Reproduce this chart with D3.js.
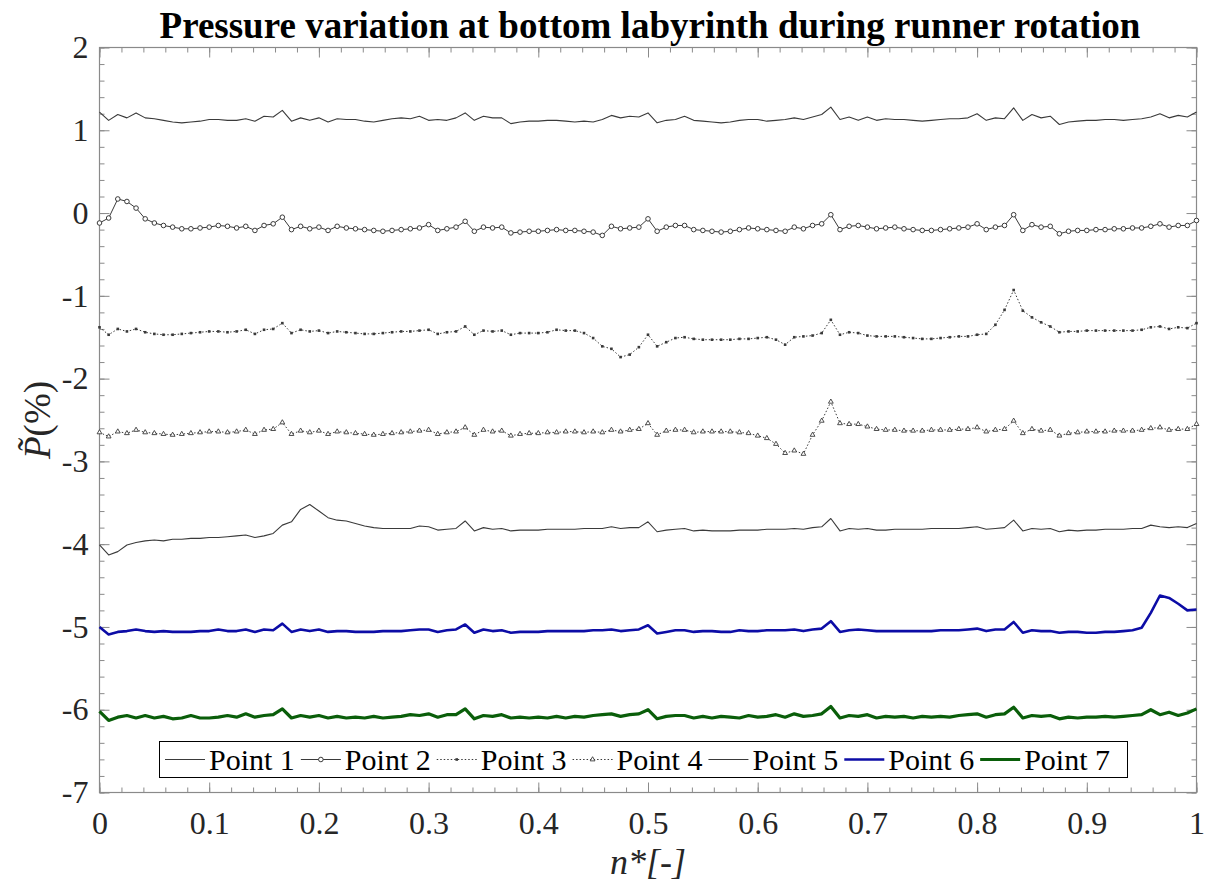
<!DOCTYPE html>
<html>
<head>
<meta charset="utf-8">
<script src="https://cdn.jsdelivr.net/npm/d3@7"></script>
<style>
  body { margin: 0; background: #fff; }
</style>
</head>
<body>
<div id="chart"></div>
<script>
// x grid of the runner rotation (121 samples, 0..1)
const nStar = d3.range(121).map(i => i / 120);

// pressure series (%)
const point1 = [
  1.22, 1.12, 1.19, 1.15, 1.21, 1.15, 1.14, 1.12, 1.10, 1.09, 1.10, 1.11, 1.13, 1.13, 1.12, 1.12, 1.14, 1.11, 1.17, 1.16,
  1.24, 1.11, 1.15, 1.12, 1.15, 1.10, 1.14, 1.13, 1.13, 1.11, 1.10, 1.12, 1.14, 1.15, 1.14, 1.17, 1.12, 1.13, 1.12, 1.15,
  1.21, 1.12, 1.17, 1.15, 1.15, 1.08, 1.10, 1.11, 1.11, 1.12, 1.12, 1.11, 1.10, 1.11, 1.10, 1.13, 1.18, 1.15, 1.17, 1.16,
  1.21, 1.09, 1.12, 1.13, 1.17, 1.12, 1.11, 1.10, 1.09, 1.10, 1.12, 1.13, 1.13, 1.11, 1.12, 1.13, 1.15, 1.13, 1.16, 1.19,
  1.28, 1.13, 1.16, 1.12, 1.16, 1.12, 1.14, 1.13, 1.13, 1.12, 1.11, 1.12, 1.13, 1.14, 1.14, 1.15, 1.20, 1.12, 1.15, 1.14,
  1.27, 1.12, 1.19, 1.15, 1.17, 1.07, 1.10, 1.11, 1.12, 1.12, 1.13, 1.13, 1.12, 1.13, 1.14, 1.16, 1.20, 1.15, 1.18, 1.16,
  1.22
];
const point2 = [
  -0.12, -0.06, 0.17, 0.14, 0.06, -0.07, -0.12, -0.15, -0.17, -0.19, -0.19, -0.18, -0.17, -0.15, -0.16, -0.18, -0.16, -0.21, -0.15, -0.13,
  -0.05, -0.20, -0.16, -0.19, -0.17, -0.21, -0.16, -0.18, -0.19, -0.20, -0.21, -0.22, -0.21, -0.20, -0.19, -0.18, -0.14, -0.21, -0.19, -0.17,
  -0.10, -0.22, -0.17, -0.18, -0.17, -0.24, -0.23, -0.22, -0.22, -0.21, -0.20, -0.21, -0.21, -0.22, -0.23, -0.27, -0.16, -0.19, -0.18, -0.17,
  -0.07, -0.22, -0.17, -0.15, -0.15, -0.20, -0.21, -0.22, -0.23, -0.22, -0.20, -0.18, -0.19, -0.20, -0.21, -0.22, -0.17, -0.19, -0.15, -0.13,
  -0.02, -0.20, -0.16, -0.15, -0.17, -0.19, -0.18, -0.17, -0.19, -0.20, -0.21, -0.21, -0.20, -0.19, -0.18, -0.17, -0.13, -0.20, -0.17, -0.15,
  -0.02, -0.21, -0.14, -0.17, -0.16, -0.25, -0.22, -0.21, -0.21, -0.20, -0.20, -0.19, -0.19, -0.18, -0.18, -0.16, -0.13, -0.17, -0.15, -0.15,
  -0.09
];
const point3 = [
  -1.38, -1.47, -1.40, -1.43, -1.40, -1.44, -1.46, -1.47, -1.47, -1.46, -1.45, -1.44, -1.43, -1.43, -1.44, -1.43, -1.41, -1.46, -1.41, -1.40,
  -1.33, -1.45, -1.41, -1.43, -1.42, -1.45, -1.43, -1.44, -1.45, -1.46, -1.46, -1.45, -1.44, -1.43, -1.43, -1.42, -1.41, -1.46, -1.44, -1.43,
  -1.37, -1.47, -1.42, -1.43, -1.42, -1.47, -1.45, -1.45, -1.45, -1.44, -1.41, -1.42, -1.42, -1.45, -1.51, -1.61, -1.64, -1.74, -1.71, -1.62,
  -1.47, -1.61, -1.56, -1.51, -1.50, -1.52, -1.53, -1.53, -1.53, -1.53, -1.52, -1.52, -1.51, -1.50, -1.53, -1.59, -1.50, -1.49, -1.48, -1.45,
  -1.29, -1.47, -1.44, -1.45, -1.48, -1.49, -1.49, -1.49, -1.50, -1.51, -1.52, -1.52, -1.51, -1.50, -1.49, -1.49, -1.47, -1.46, -1.35, -1.17,
  -0.93, -1.18, -1.26, -1.32, -1.37, -1.44, -1.43, -1.43, -1.42, -1.42, -1.42, -1.42, -1.42, -1.42, -1.41, -1.38, -1.37, -1.40, -1.38, -1.39,
  -1.33
];
const point4 = [
  -2.65, -2.70, -2.64, -2.66, -2.62, -2.65, -2.66, -2.67, -2.68, -2.67, -2.66, -2.65, -2.64, -2.64, -2.65, -2.64, -2.62, -2.67, -2.62, -2.61,
  -2.53, -2.67, -2.63, -2.65, -2.63, -2.67, -2.64, -2.65, -2.66, -2.67, -2.68, -2.67, -2.66, -2.65, -2.64, -2.63, -2.62, -2.67, -2.65, -2.64,
  -2.59, -2.68, -2.62, -2.64, -2.63, -2.69, -2.67, -2.66, -2.66, -2.65, -2.65, -2.64, -2.64, -2.65, -2.64, -2.65, -2.62, -2.64, -2.62, -2.61,
  -2.54, -2.68, -2.63, -2.62, -2.62, -2.65, -2.64, -2.64, -2.64, -2.64, -2.65, -2.66, -2.69, -2.72, -2.79, -2.90, -2.87, -2.91, -2.68, -2.51,
  -2.28, -2.54, -2.55, -2.55, -2.58, -2.61, -2.62, -2.62, -2.63, -2.63, -2.63, -2.62, -2.62, -2.62, -2.61, -2.61, -2.59, -2.64, -2.62, -2.61,
  -2.51, -2.66, -2.61, -2.63, -2.62, -2.69, -2.66, -2.65, -2.64, -2.64, -2.64, -2.63, -2.63, -2.63, -2.62, -2.60, -2.59, -2.62, -2.61, -2.61,
  -2.55
];
const point5 = [
  -4.01, -4.13, -4.09, -4.01, -3.98, -3.96, -3.95, -3.96, -3.94, -3.94, -3.93, -3.93, -3.92, -3.92, -3.91, -3.90, -3.89, -3.92, -3.90, -3.87,
  -3.77, -3.73, -3.58, -3.52, -3.60, -3.68, -3.71, -3.72, -3.75, -3.78, -3.80, -3.81, -3.81, -3.81, -3.81, -3.78, -3.79, -3.83, -3.82, -3.81,
  -3.72, -3.84, -3.80, -3.82, -3.81, -3.84, -3.83, -3.83, -3.83, -3.82, -3.82, -3.82, -3.82, -3.81, -3.81, -3.81, -3.79, -3.81, -3.80, -3.80,
  -3.73, -3.85, -3.83, -3.82, -3.81, -3.84, -3.83, -3.84, -3.84, -3.84, -3.83, -3.83, -3.83, -3.82, -3.82, -3.82, -3.81, -3.82, -3.80, -3.79,
  -3.69, -3.84, -3.81, -3.82, -3.81, -3.83, -3.83, -3.82, -3.82, -3.82, -3.82, -3.81, -3.81, -3.81, -3.81, -3.80, -3.79, -3.82, -3.81, -3.80,
  -3.71, -3.84, -3.81, -3.82, -3.81, -3.85, -3.83, -3.84, -3.83, -3.83, -3.82, -3.82, -3.82, -3.81, -3.81, -3.77, -3.79, -3.80, -3.79, -3.80,
  -3.75
];
const point6 = [
  -5.00, -5.09, -5.06, -5.05, -5.03, -5.05, -5.06, -5.05, -5.06, -5.06, -5.06, -5.05, -5.05, -5.03, -5.05, -5.05, -5.03, -5.06, -5.03, -5.04,
  -4.96, -5.06, -5.03, -5.05, -5.03, -5.06, -5.05, -5.05, -5.06, -5.06, -5.06, -5.05, -5.05, -5.05, -5.04, -5.03, -5.03, -5.06, -5.04, -5.03,
  -4.97, -5.07, -5.03, -5.05, -5.04, -5.07, -5.06, -5.06, -5.06, -5.05, -5.05, -5.05, -5.05, -5.05, -5.04, -5.04, -5.03, -5.05, -5.04, -5.03,
  -4.98, -5.08, -5.06, -5.04, -5.04, -5.06, -5.05, -5.05, -5.06, -5.06, -5.04, -5.05, -5.05, -5.04, -5.04, -5.04, -5.03, -5.05, -5.03, -5.02,
  -4.93, -5.06, -5.04, -5.03, -5.04, -5.05, -5.05, -5.05, -5.05, -5.05, -5.05, -5.05, -5.04, -5.04, -5.04, -5.03, -5.02, -5.05, -5.03, -5.03,
  -4.94, -5.07, -5.04, -5.05, -5.05, -5.07, -5.06, -5.06, -5.07, -5.07, -5.06, -5.06, -5.05, -5.04, -5.01, -4.83, -4.62, -4.65, -4.72, -4.80,
  -4.79
];
const point7 = [
  -6.02, -6.13, -6.09, -6.07, -6.10, -6.07, -6.10, -6.08, -6.11, -6.10, -6.07, -6.10, -6.10, -6.09, -6.07, -6.09, -6.05, -6.09, -6.07, -6.06,
  -5.99, -6.10, -6.07, -6.09, -6.07, -6.10, -6.08, -6.10, -6.09, -6.10, -6.08, -6.10, -6.09, -6.08, -6.06, -6.07, -6.05, -6.09, -6.06, -6.06,
  -5.99, -6.11, -6.07, -6.08, -6.06, -6.10, -6.09, -6.10, -6.09, -6.10, -6.08, -6.10, -6.08, -6.09, -6.07, -6.06, -6.05, -6.08, -6.06, -6.05,
  -6.00, -6.11, -6.08, -6.07, -6.07, -6.10, -6.08, -6.10, -6.08, -6.09, -6.10, -6.07, -6.09, -6.08, -6.06, -6.09, -6.05, -6.08, -6.07, -6.05,
  -5.96, -6.10, -6.07, -6.08, -6.06, -6.10, -6.08, -6.09, -6.08, -6.10, -6.08, -6.09, -6.08, -6.09, -6.07, -6.06, -6.05, -6.09, -6.06, -6.05,
  -5.97, -6.10, -6.07, -6.08, -6.07, -6.11, -6.09, -6.10, -6.09, -6.09, -6.08, -6.09, -6.08, -6.07, -6.06, -6.00, -6.06, -6.03, -6.07, -6.04,
  -5.99
];

const seriesNames = ["Point 1", "Point 2", "Point 3", "Point 4", "Point 5", "Point 6", "Point 7"];
const seriesValues = [point1, point2, point3, point4, point5, point6, point7];

// axis ticks and labels
const xTickValues = [0, 0.1, 0.2, 0.3, 0.4, 0.5, 0.6, 0.7, 0.8, 0.9, 1];
const xTickLabels = ["0", "0.1", "0.2", "0.3", "0.4", "0.5", "0.6", "0.7", "0.8", "0.9", "1"];
const yTickValues = [2, 1, 0, -1, -2, -3, -4, -5, -6, -7];
const yTickLabels = ["2", "1", "0", "-1", "-2", "-3", "-4", "-5", "-6", "-7"];

// look of each line (kept apart from the data)
const styles = [
  { color: "#3a3a3a", width: 1.1, dash: null, marker: null },
  { color: "#3a3a3a", width: 1, dash: null, marker: "circle" },
  { color: "#3a3a3a", width: 1, dash: "1.5,2", marker: "square" },
  { color: "#3a3a3a", width: 1, dash: "1.5,2", marker: "triangle" },
  { color: "#3a3a3a", width: 1.1, dash: null, marker: null },
  { color: "#0c0ca6", width: 2.6, dash: null, marker: null },
  { color: "#0a5e0a", width: 3.2, dash: null, marker: null }
];

const serif = "'Liberation Serif', 'Times New Roman', serif";
const width = 1208, height = 884;
const plotLeft = 99.5, plotRight = 1196.5, plotTop = 47.5, plotBottom = 792.5;

const x = d3.scaleLinear().domain([0, 1]).range([plotLeft, plotRight]);
const y = d3.scaleLinear().domain([-7, 2]).range([plotBottom, plotTop]);

const svg = d3.select("#chart").append("svg")
  .attr("width", width)
  .attr("height", height)
  .attr("viewBox", [0, 0, width, height])
  .attr("font-family", serif);

// title
svg.append("text")
  .attr("x", 650)
  .attr("y", 38)
  .attr("text-anchor", "middle")
  .attr("font-family", serif)
  .attr("font-size", 37)
  .attr("font-weight", "bold")
  .attr("fill", "#000")
  .text("Pressure variation at bottom labyrinth during runner rotation");

// ticks: major + minor, all pointing inward, on all four sides
const axisColor = "#8a8a8a";
const xMinor = d3.range(0, 1.0001, 0.02).map(v => +v.toFixed(2));
const yMinor = d3.range(-7, 2.0001, 0.2).map(v => +v.toFixed(1));

function styleAxis(g) {
  g.attr("font-family", serif).attr("font-size", 32);
  g.select(".domain").remove();
  g.selectAll(".tick line").attr("stroke", axisColor);
  g.selectAll(".tick text").attr("fill", "#262626").attr("font-family", serif);
}

svg.append("g").attr("transform", `translate(0,${plotBottom})`)
  .call(d3.axisBottom(x).tickValues(xMinor).tickSize(-5).tickFormat(""))
  .call(styleAxis);
svg.append("g").attr("transform", `translate(0,${plotTop})`)
  .call(d3.axisTop(x).tickValues(xMinor).tickSize(-5).tickFormat(""))
  .call(styleAxis);
svg.append("g").attr("transform", `translate(${plotLeft},0)`)
  .call(d3.axisLeft(y).tickValues(yMinor).tickSize(-5).tickFormat(""))
  .call(styleAxis);
svg.append("g").attr("transform", `translate(${plotRight},0)`)
  .call(d3.axisRight(y).tickValues(yMinor).tickSize(-5).tickFormat(""))
  .call(styleAxis);

svg.append("g").attr("transform", `translate(0,${plotBottom})`)
  .call(d3.axisBottom(x).tickValues(xTickValues).tickSize(-10).tickPadding(19)
    .tickFormat((d, i) => xTickLabels[i]))
  .call(styleAxis);
svg.append("g").attr("transform", `translate(0,${plotTop})`)
  .call(d3.axisTop(x).tickValues(xTickValues).tickSize(-10).tickFormat(""))
  .call(styleAxis);
svg.append("g").attr("transform", `translate(${plotLeft},0)`)
  .call(d3.axisLeft(y).tickValues(yTickValues).tickSize(-10).tickPadding(11)
    .tickFormat((d, i) => yTickLabels[i]))
  .call(styleAxis);
svg.append("g").attr("transform", `translate(${plotRight},0)`)
  .call(d3.axisRight(y).tickValues(yTickValues).tickSize(-10).tickFormat(""))
  .call(styleAxis);

// axes box
svg.append("rect")
  .attr("x", plotLeft).attr("y", plotTop)
  .attr("width", plotRight - plotLeft).attr("height", plotBottom - plotTop)
  .attr("fill", "none")
  .attr("stroke", axisColor)
  .attr("stroke-width", 1.2);

// lines
const line = d3.line()
  .x((d, i) => x(nStar[i]))
  .y(d => y(d));

function drawMarker(g, kind, cx, cy, color) {
  if (kind === "circle") {
    g.append("circle").attr("cx", cx).attr("cy", cy).attr("r", 2.3)
      .attr("fill", "#fff").attr("stroke", color).attr("stroke-width", 1);
  } else if (kind === "square") {
    g.append("rect").attr("x", cx - 1.3).attr("y", cy - 1.3).attr("width", 2.6).attr("height", 2.6)
      .attr("fill", color);
  } else if (kind === "triangle") {
    g.append("path").attr("transform", `translate(${cx},${cy})`)
      .attr("d", d3.symbol(d3.symbolTriangle, 10)())
      .attr("fill", "#fff").attr("stroke", color).attr("stroke-width", 0.9);
  }
}

seriesValues.forEach((vals, k) => {
  const s = styles[k];
  const g = svg.append("g");
  g.append("path")
    .datum(vals)
    .attr("fill", "none")
    .attr("stroke", s.color)
    .attr("stroke-width", s.width)
    .attr("stroke-linejoin", "round")
    .attr("stroke-dasharray", s.dash)
    .attr("d", line);
  if (s.marker) {
    vals.forEach((v, i) => drawMarker(g, s.marker, x(nStar[i]), y(v), s.color));
  }
});

// legend
const legend = svg.append("g");
legend.append("rect")
  .attr("x", 159.5).attr("y", 741.5)
  .attr("width", 968).attr("height", 36)
  .attr("fill", "#fff")
  .attr("stroke", "#000")
  .attr("stroke-width", 1);

let lx = 165;
const ly = 759.5;
seriesNames.forEach((name, k) => {
  const s = styles[k];
  legend.append("line")
    .attr("x1", lx).attr("x2", lx + 40)
    .attr("y1", ly).attr("y2", ly)
    .attr("stroke", s.color)
    .attr("stroke-width", s.width)
    .attr("stroke-dasharray", s.dash);
  if (s.marker) drawMarker(legend, s.marker, lx + 20, ly, s.color);
  const t = legend.append("text")
    .attr("x", lx + 44)
    .attr("y", ly + 10)
    .attr("font-family", serif)
    .attr("font-size", 30)
    .attr("fill", "#000")
    .text(name);
  lx += 44 + t.node().getComputedTextLength() + 6;
});

// axis labels
svg.append("text")
  .attr("transform", "translate(50,420) rotate(-90)")
  .attr("text-anchor", "middle")
  .attr("font-family", serif)
  .attr("font-size", 37)
  .attr("fill", "#262626")
  .call(t => t.append("tspan").attr("font-style", "italic").text("P\u0303"))
  .call(t => t.append("tspan").text("(%)"));

svg.append("text")
  .attr("x", 648)
  .attr("y", 874)
  .attr("text-anchor", "middle")
  .attr("font-family", serif)
  .attr("font-size", 36)
  .attr("font-style", "italic")
  .attr("fill", "#262626")
  .text("n*[-]");
</script>
</body>
</html>
